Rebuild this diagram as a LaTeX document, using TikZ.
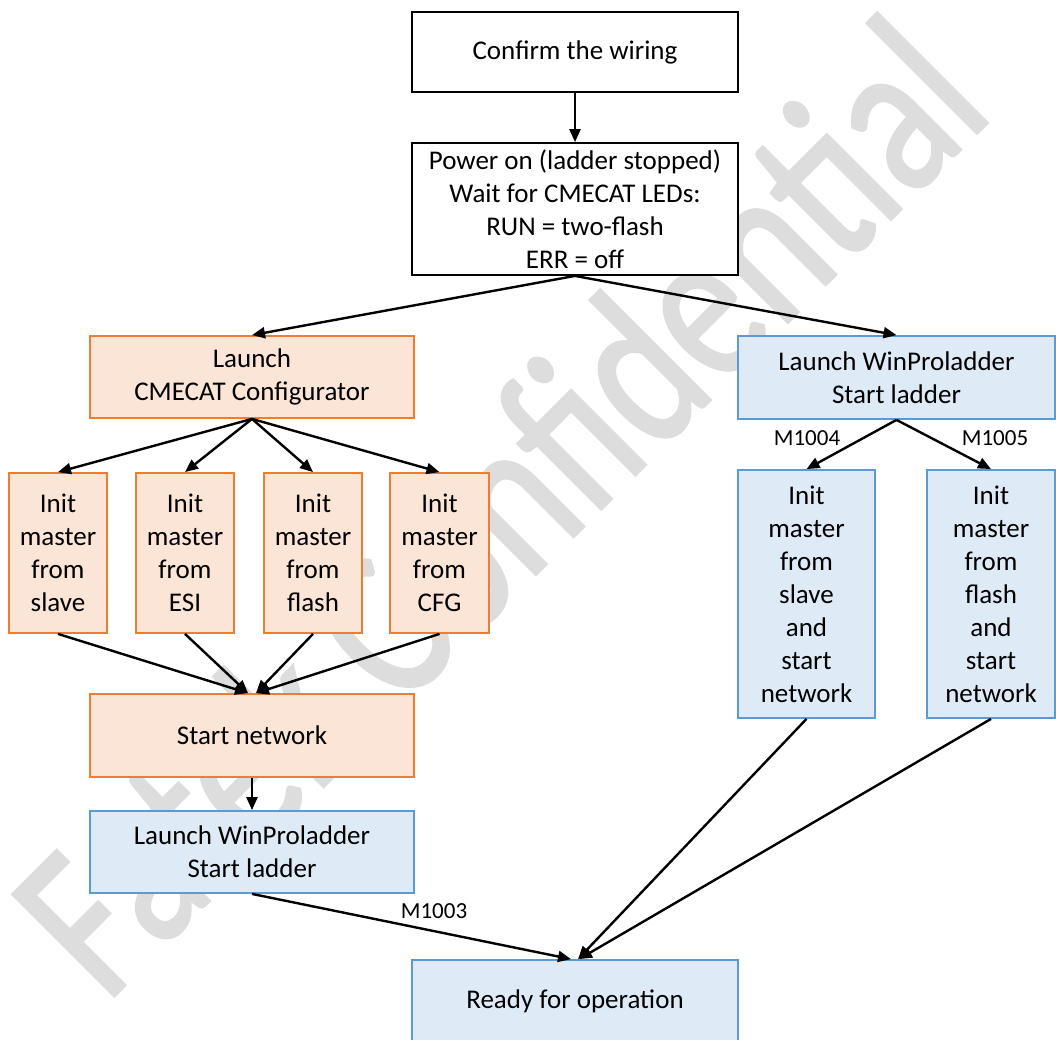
\documentclass[tikz,border=0pt]{standalone}
\usepackage{fontspec}
\setmainfont{Carlito}
\newfontfamily\wmfont[FakeBold=1.5]{Carlito}
\usepackage{graphicx}
\usetikzlibrary{arrows.meta}
\definecolor{orfill}{RGB}{251,229,214}
\definecolor{ordraw}{RGB}{237,125,49}
\definecolor{blfill}{RGB}{222,235,247}
\definecolor{bldraw}{RGB}{91,155,213}
\definecolor{wmgray}{RGB}{221,221,221}
\begin{document}
\begin{tikzpicture}[x=1pt,y=-1pt,
  box/.style={draw, line width=1.8pt, align=center, inner sep=0pt, font=\fontsize{27}{33}\selectfont, text=black},
  wbox/.style={box, fill=white, draw=black},
  obox/.style={box, fill=orfill, draw=ordraw},
  bbox/.style={box, fill=blfill, draw=bldraw},
  flow/.style={line width=2.4pt, -{Triangle[length=13pt,width=11pt]}},
  lbl/.style={font=\fontsize{23}{27}\selectfont, inner sep=0pt}
]
\useasboundingbox (0,0) rectangle (1056,1039);
\fill[white] (0,0) rectangle (1056,1039);

% watermark
\node[anchor=base, rotate=45, text=wmgray, inner sep=0pt, font=\wmfont\fontsize{172}{172}\selectfont] (wm) at (551,559) {\scalebox{1}[1.3]{Fatek Confidential}};

% boxes
\node[wbox, minimum width=326pt, minimum height=80pt] (confirm) at (575,52) {Confirm the wiring};
\node[wbox, minimum width=326pt, minimum height=132pt] (power) at (575,209) {Power on (ladder stopped)\\Wait for CMECAT LEDs:\\RUN = two-flash\\ERR = off};
\node[obox, minimum width=324pt, minimum height=82pt] (cfg) at (252,377) {Launch\\CMECAT Configurator};
\node[bbox, minimum width=317pt, minimum height=83pt] (wpR) at (896.5,377.5) {Launch WinProladder\\Start ladder};
\node[obox, minimum width=98pt, minimum height=160pt] (i1) at (58,553) {Init\\master\\from\\slave};
\node[obox, minimum width=98pt, minimum height=160pt] (i2) at (185,553) {Init\\master\\from\\ESI};
\node[obox, minimum width=98pt, minimum height=160pt] (i3) at (313,553) {Init\\master\\from\\flash};
\node[obox, minimum width=99pt, minimum height=160pt] (i4) at (439.5,553) {Init\\master\\from\\CFG};
\node[obox, minimum width=324pt, minimum height=83pt] (net) at (252,735.5) {Start network};
\node[bbox, minimum width=324pt, minimum height=82pt] (wpL) at (252,852) {Launch WinProladder\\Start ladder};
\node[bbox, minimum width=137pt, minimum height=248pt] (r1) at (806.5,594) {Init\\master\\from\\slave\\and\\start\\network};
\node[bbox, minimum width=128pt, minimum height=248pt] (r2) at (991,594) {Init\\master\\from\\flash\\and\\start\\network};
\node[bbox, minimum width=326pt, minimum height=83pt] (ready) at (575,1001.5) {Ready for operation};

% labels
\node[lbl] (m1004) at (807,438) {M1004};
\node[lbl] (m1005) at (995,438) {M1005};
\node[lbl] (m1003) at (434,911) {M1003};

% connectors
\draw[flow] (confirm.south) -- (power.north);
\draw[flow] (power.south) -- (cfg.north);
\draw[flow] (power.south) -- (wpR.north);
\draw[flow] (cfg.south) -- (i1.north);
\draw[flow] (cfg.south) -- (i2.north);
\draw[flow] (cfg.south) -- (i3.north);
\draw[flow] (cfg.south) -- (i4.north);
\draw[flow] (i1.south) -- ([xshift=-4pt]net.north);
\draw[flow] (i2.south) -- ([xshift=-4pt]net.north);
\draw[flow] (i3.south) -- ([xshift=4pt]net.north);
\draw[flow] (i4.south) -- ([xshift=4pt]net.north);
\draw[flow] (net.south) -- (wpL.north);
\draw[flow] (wpR.south) -- (r1.north);
\draw[flow] (wpR.south) -- (r2.north);
\draw[flow] (wpL.south) -- ([xshift=-4pt]ready.north);
\draw[flow] (r1.south) -- ([xshift=3pt]ready.north);
\draw[flow] (r2.south) -- ([xshift=4pt]ready.north);
\end{tikzpicture}
\end{document}
